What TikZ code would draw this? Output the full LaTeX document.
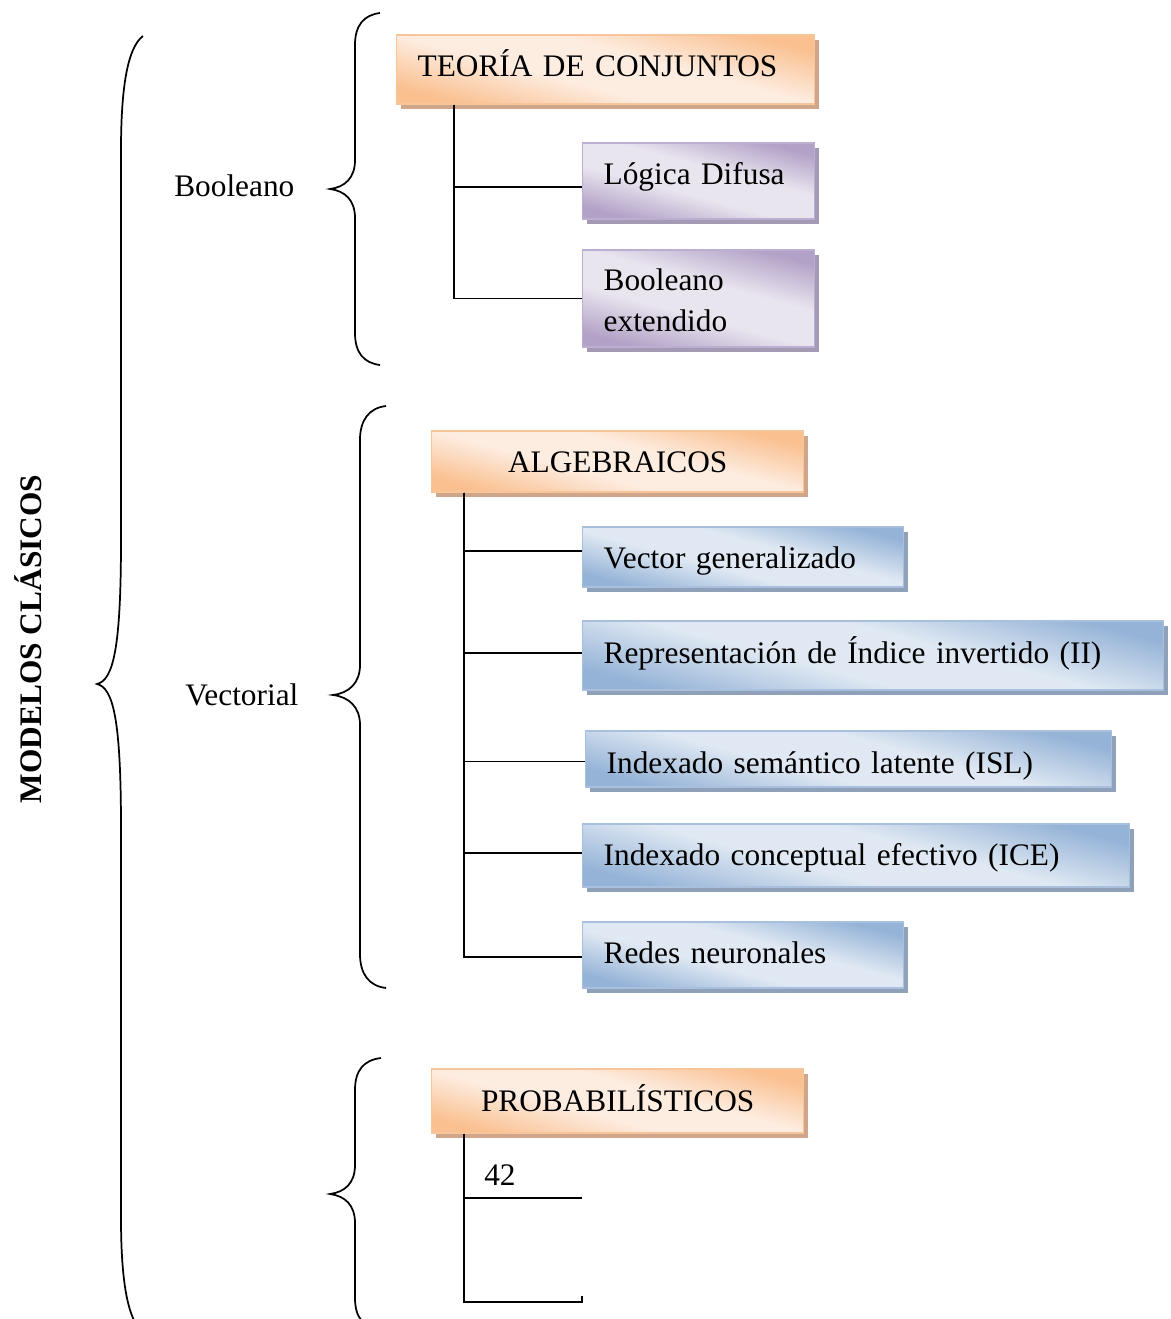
\documentclass[tikz,border=0pt]{standalone}
\usepackage{fontspec}
\setmainfont{Liberation Serif}
\usetikzlibrary{shadows}

% palette
\definecolor{orDark}{HTML}{FAC090}
\definecolor{orLight}{HTML}{FDEDE1}
\definecolor{orBorder}{HTML}{F8C49A}
\definecolor{orShadow}{HTML}{CFA68A}
\definecolor{puDark}{HTML}{B3A2C7}
\definecolor{puLight}{HTML}{E9E5EF}
\definecolor{puBorder}{HTML}{BCAED0}
\definecolor{puShadow}{HTML}{A59AB4}
\definecolor{blDark}{HTML}{95B3D7}
\definecolor{blLight}{HTML}{E0E9F3}
\definecolor{blBorder}{HTML}{A8C0DE}
\definecolor{blShadow}{HTML}{8FA1B8}

% soft two-sided fills, light along the middle
\pgfdeclareverticalshading{orshade}{100bp}{color(0bp)=(orDark); color(25bp)=(orDark);
  color(43bp)=(orLight); color(57bp)=(orLight); color(75bp)=(orDark); color(100bp)=(orDark)}
\pgfdeclareverticalshading{pushade}{100bp}{color(0bp)=(puDark); color(25bp)=(puDark);
  color(43bp)=(puLight); color(57bp)=(puLight); color(75bp)=(puDark); color(100bp)=(puDark)}
\pgfdeclareverticalshading{blshade}{100bp}{color(0bp)=(blDark); color(25bp)=(blDark);
  color(43bp)=(blLight); color(57bp)=(blLight); color(75bp)=(blDark); color(100bp)=(blDark)}

\newcommand\bodyfont{\fontsize{23.5pt}{30.75pt}\selectfont}

\tikzset{
  box/.style={rectangle, draw, line width=1pt, inner xsep=15.75pt, inner ysep=0pt,
    align=left, anchor=base west, font=\bodyfont, shading angle=-15},
  obox/.style={box, draw=orBorder, shade, shading=orshade,
    general shadow={fill=orShadow, shadow xshift=3pt, shadow yshift=-3.5pt}},
  pbox/.style={box, draw=puBorder, shade, shading=pushade,
    general shadow={fill=puShadow, shadow xshift=3pt, shadow yshift=-3.5pt}},
  bbox/.style={box, draw=blBorder, shade, shading=blshade,
    general shadow={fill=blShadow, shadow xshift=3pt, shadow yshift=-3.5pt}},
  conn/.style={line width=1.4pt, black},
  brace/.style={line width=1.3pt, black},
  lbl/.style={anchor=base west, inner sep=0pt, font=\bodyfont},
}

\begin{document}
\begin{tikzpicture}[x=0.75pt, y=-0.75pt]
\useasboundingbox (0,0) rectangle (1170,1319);
\clip (0,0) rectangle (1170,1319);

% title along the left edge
\node[rotate=90, font=\bodyfont\bfseries, inner sep=0pt] (title) at (28,639) {MODELOS CLÁSICOS};

% side labels
\node[lbl] (lbool) at (174,197) {Booleano};
\node[lbl] (lvect) at (185,705) {Vectorial};

% braces
\draw[brace] (143,36) .. controls (127,48) and (121,90) .. (121,150) -- (121,540)
  .. controls (121,650) and (113,680) .. (97,684)
  .. controls (113,688) and (121,718) .. (121,828) -- (121,1218)
  .. controls (121,1278) and (127,1320) .. (143,1332);
\draw[brace] (380,13) .. controls (364,15) and (355,25) .. (355,45) -- (355,160)
  .. controls (355,178) and (345,187) .. (330,189)
  .. controls (345,191) and (355,200) .. (355,218) -- (355,333)
  .. controls (355,353) and (364,363) .. (380,365);
\draw[brace] (386,406) .. controls (369,408) and (360,420) .. (360,440) -- (360,665)
  .. controls (360,683) and (349,693) .. (333,695)
  .. controls (349,697) and (360,707) .. (360,725) -- (360,954)
  .. controls (360,974) and (369,986) .. (386,988);
\draw[brace] (381,1058) .. controls (364,1060) and (355,1070) .. (355,1090) -- (355,1165)
  .. controls (355,1183) and (345,1192) .. (330,1194)
  .. controls (345,1196) and (355,1205) .. (355,1223) -- (355,1298)
  .. controls (355,1318) and (364,1328) .. (381,1330);

% Boolean group
\node[obox, text width=282pt, text height=31.5pt, text depth=20.25pt] (teoria) at (396,77) {TEORÍA DE CONJUNTOS};
\node[pbox, text width=142.5pt, text height=31.5pt, text depth=25.5pt] (logica) at (582,185) {Lógica Difusa};
\node[pbox, text width=142.5pt, text height=30.75pt, text depth=42pt] (boolext) at (582,291) {Booleano\\extendido};

% vector group
\node[obox, align=center, text width=247.5pt, text height=30.75pt, text depth=15pt] (algeb) at (431,472) {ALGEBRAICOS};
\node[bbox, text width=209.25pt, text height=30.75pt, text depth=14.25pt] (vecgen) at (582,568) {Vector generalizado};
\node[bbox, text width=404.25pt, text height=31.5pt, text depth=20.25pt] (repr) at (582,663) {Representación de Índice invertido (II)};
\node[bbox, text width=363pt, text height=31.5pt, text depth=10.5pt] (isl) at (585,773) {Indexado semántico latente (ISL)};
\node[bbox, text width=378.75pt, text height=30.75pt, text depth=16.5pt] (ice) at (582,865) {Indexado conceptual efectivo (ICE)};
\node[bbox, text width=209.25pt, text height=30.75pt, text depth=18.75pt] (redes) at (582,963) {Redes neuronales};

% probabilistic group
\node[obox, align=center, text width=247.5pt, text height=31.5pt, text depth=16.5pt] (prob) at (431,1111) {PROBABILÍSTICOS};
\node[lbl] (num) at (484,1185) {42};

% trunk positions
\coordinate (t1) at (454,0);
\coordinate (t2) at (464,0);
\coordinate (p1) at (582,1198);
\coordinate (p2) at (582,1302);

% connectors
\draw[conn] (teoria.south -| t1) |- ([yshift=-4.5pt]logica.west);
\draw[conn] (teoria.south -| t1) |- (boolext.west);

\draw[conn] (algeb.south -| t2) |- ([yshift=4.5pt]vecgen.west);
\draw[conn] (algeb.south -| t2) |- ([yshift=1.9pt]repr.west);
\draw[conn] (algeb.south -| t2) |- ([yshift=-1.9pt]isl.west);
\draw[conn] (algeb.south -| t2) |- ([yshift=1.9pt]ice.west);
\draw[conn] (algeb.south -| t2) |- ([yshift=-1.5pt]redes.west);

\draw[conn] (prob.south -| t2) |- (p1);
\draw[conn] (prob.south -| t2) |- (p2) -- ++(0,-6);
\end{tikzpicture}
\end{document}
